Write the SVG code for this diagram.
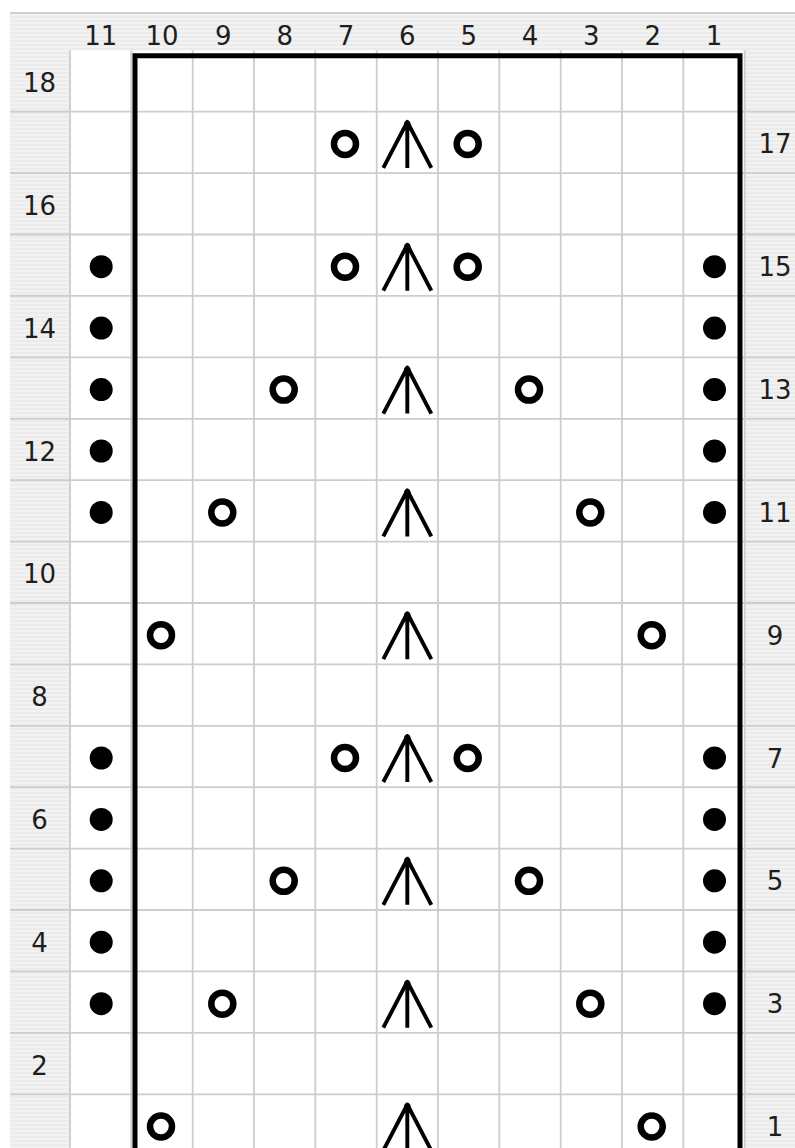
<svg xmlns="http://www.w3.org/2000/svg" xmlns:xlink="http://www.w3.org/1999/xlink" width="795" height="1148" viewBox="0 0 795 1148">
<style>
.lbl{font-family:"DejaVu Sans","Liberation Sans",sans-serif;font-size:26px;fill:#1e1e1e;text-anchor:middle}
.thin{stroke:#cdcdcd;stroke-width:1.8;fill:none}
.border{stroke:#000;stroke-width:5;fill:none;stroke-linejoin:miter}
</style>
<defs>
<pattern id="stripe" width="4" height="4" patternUnits="userSpaceOnUse">
<rect width="4" height="4" fill="#f2f2f2"/>
<rect width="4" height="2" fill="#ebebeb"/>
</pattern>
<g id="yo"><circle cx="0" cy="0" r="11" fill="none" stroke="#000" stroke-width="6.5"/></g>
<g id="dot"><circle cx="0" cy="0" r="11.5" fill="#000"/></g>
<g id="cdd"><path d="M-23,24 L1,-22 L25,24 M1,-22 V24" fill="none" stroke="#000" stroke-width="3.9" stroke-linejoin="round"/><circle cx="1" cy="-20" r="3.2" fill="#000"/></g>
</defs>
<rect width="795" height="1148" fill="#fff"/>
<g id="header">
<rect x="10" y="13" width="785" height="37.3" fill="url(#stripe)"/>
<rect x="10" y="50" width="60" height="1098" fill="url(#stripe)"/>
<rect x="744.7" y="50" width="50.3" height="1098" fill="url(#stripe)"/>
<line x1="10" y1="13" x2="795" y2="13" stroke="#cfcfcf" stroke-width="2"/>
</g>
<g id="gridlines">
<path class="thin" d="M10,111.7H795 M10,173.1H795 M10,234.5H795 M10,295.9H795 M10,357.4H795 M10,418.8H795 M10,480.2H795 M10,541.6H795 M10,603H795 M10,664.4H795 M10,725.8H795 M10,787.2H795 M10,848.6H795 M10,910H795 M10,971.4H795 M10,1032.9H795 M10,1094.3H795"/>
<path class="thin" d="M70,50.3V1148 M131.3,50.3V1148 M192.7,50.3V1148 M254,50.3V1148 M315.3,50.3V1148 M376.7,50.3V1148 M438,50.3V1148 M499.3,50.3V1148 M560.7,50.3V1148 M622,50.3V1148 M683.3,50.3V1148 M744.7,50.3V1148"/>
</g>
<g id="connectors">
<path class="border" d="M135,1150 V55.8 H740 V1150"/>
</g>
<g id="col-labels">
<text class="lbl" x="100.7" y="45">11</text>
<text class="lbl" x="162" y="45">10</text>
<text class="lbl" x="223.3" y="45">9</text>
<text class="lbl" x="284.7" y="45">8</text>
<text class="lbl" x="346" y="45">7</text>
<text class="lbl" x="407.3" y="45">6</text>
<text class="lbl" x="468.7" y="45">5</text>
<text class="lbl" x="530" y="45">4</text>
<text class="lbl" x="591.3" y="45">3</text>
<text class="lbl" x="652.7" y="45">2</text>
<text class="lbl" x="714" y="45">1</text>
</g>
<g id="row-labels">
<text class="lbl" x="39.5" y="92">18</text>
<text class="lbl" x="775" y="153.4">17</text>
<text class="lbl" x="39.5" y="214.8">16</text>
<text class="lbl" x="775" y="276.2">15</text>
<text class="lbl" x="39.5" y="337.6">14</text>
<text class="lbl" x="775" y="399.1">13</text>
<text class="lbl" x="39.5" y="460.5">12</text>
<text class="lbl" x="775" y="521.9">11</text>
<text class="lbl" x="39.5" y="583.3">10</text>
<text class="lbl" x="775" y="644.7">9</text>
<text class="lbl" x="39.5" y="706.1">8</text>
<text class="lbl" x="775" y="767.5">7</text>
<text class="lbl" x="39.5" y="828.9">6</text>
<text class="lbl" x="775" y="890.3">5</text>
<text class="lbl" x="39.5" y="951.7">4</text>
<text class="lbl" x="775" y="1013.2">3</text>
<text class="lbl" x="39.5" y="1074.6">2</text>
<text class="lbl" x="775" y="1136">1</text>
</g>
<g id="row17"><use href="#yo" x="345" y="143.9"/><use href="#cdd" x="406.3" y="143.9"/><use href="#yo" x="467.7" y="143.9"/></g>
<g id="row15"><use href="#dot" x="101.2" y="266.7"/><use href="#yo" x="345" y="266.7"/><use href="#cdd" x="406.3" y="266.7"/><use href="#yo" x="467.7" y="266.7"/><use href="#dot" x="714.5" y="266.7"/></g>
<g id="row14"><use href="#dot" x="101.2" y="328.1"/><use href="#dot" x="714.5" y="328.1"/></g>
<g id="row13"><use href="#dot" x="101.2" y="389.6"/><use href="#yo" x="283.7" y="389.6"/><use href="#cdd" x="406.3" y="389.6"/><use href="#yo" x="529" y="389.6"/><use href="#dot" x="714.5" y="389.6"/></g>
<g id="row12"><use href="#dot" x="101.2" y="451"/><use href="#dot" x="714.5" y="451"/></g>
<g id="row11"><use href="#dot" x="101.2" y="512.4"/><use href="#yo" x="222.3" y="512.4"/><use href="#cdd" x="406.3" y="512.4"/><use href="#yo" x="590.3" y="512.4"/><use href="#dot" x="714.5" y="512.4"/></g>
<g id="row9"><use href="#yo" x="161" y="635.2"/><use href="#cdd" x="406.3" y="635.2"/><use href="#yo" x="651.7" y="635.2"/></g>
<g id="row7"><use href="#dot" x="101.2" y="758"/><use href="#yo" x="345" y="758"/><use href="#cdd" x="406.3" y="758"/><use href="#yo" x="467.7" y="758"/><use href="#dot" x="714.5" y="758"/></g>
<g id="row6"><use href="#dot" x="101.2" y="819.4"/><use href="#dot" x="714.5" y="819.4"/></g>
<g id="row5"><use href="#dot" x="101.2" y="880.8"/><use href="#yo" x="283.7" y="880.8"/><use href="#cdd" x="406.3" y="880.8"/><use href="#yo" x="529" y="880.8"/><use href="#dot" x="714.5" y="880.8"/></g>
<g id="row4"><use href="#dot" x="101.2" y="942.2"/><use href="#dot" x="714.5" y="942.2"/></g>
<g id="row3"><use href="#dot" x="101.2" y="1003.7"/><use href="#yo" x="222.3" y="1003.7"/><use href="#cdd" x="406.3" y="1003.7"/><use href="#yo" x="590.3" y="1003.7"/><use href="#dot" x="714.5" y="1003.7"/></g>
<g id="row1"><use href="#yo" x="161" y="1126.5"/><use href="#cdd" x="406.3" y="1126.5"/><use href="#yo" x="651.7" y="1126.5"/></g>
</svg>
